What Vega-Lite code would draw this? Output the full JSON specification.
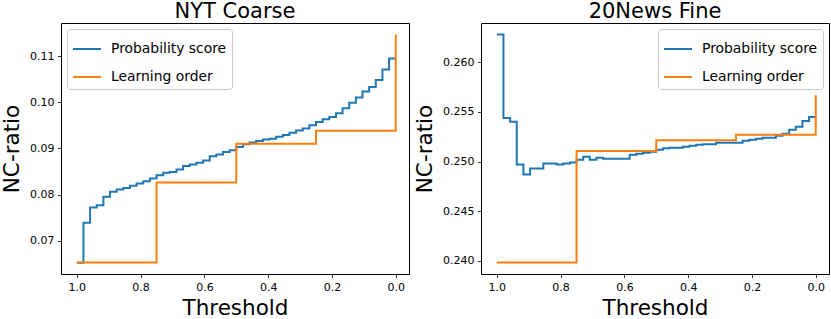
{
  "$schema": "https://vega.github.io/schema/vega-lite/v6.json",
  "background": "white",
  "padding": {"left": 1, "top": 0, "right": 3, "bottom": 0},
  "spacing": 4,
  "config": {
    "font": "DejaVu Sans",
    "view": {"stroke": "#000", "strokeWidth": 1},
    "axis": {"grid": false, "domain": false, "tickColor": "#000", "tickSize": 3.5, "tickWidth": 0.8, "labelFont": "DejaVu Sans", "labelFontSize": 11, "labelColor": "#000", "labelPadding": 3.5, "titleFont": "DejaVu Sans", "titleFontSize": 21.5, "titleFontWeight": "normal", "titleColor": "#000", "titlePadding": 6},
    "axisX": {"titlePadding": 5},
    "title": {"font": "DejaVu Sans", "fontSize": 21, "fontWeight": "normal", "color": "#000", "offset": 1},
    "legend": {"labelFont": "DejaVu Sans", "labelFontSize": 13.9, "labelColor": "#000", "symbolType": "stroke", "symbolSize": 784, "symbolStrokeWidth": 2, "fillColor": "rgba(255,255,255,0.8)", "strokeColor": "#cccccc", "cornerRadius": 3, "padding": 5, "rowPadding": 6, "labelOffset": 9, "offset": 6}
  },
  "datasets": {
    "nyt": [
      {"series": "Probability score", "t": 1, "v": 0.0652},
      {"series": "Probability score", "t": 0.97917, "v": 0.0739},
      {"series": "Probability score", "t": 0.95833, "v": 0.0772},
      {"series": "Probability score", "t": 0.9375, "v": 0.0777},
      {"series": "Probability score", "t": 0.91667, "v": 0.0795},
      {"series": "Probability score", "t": 0.89583, "v": 0.0806},
      {"series": "Probability score", "t": 0.875, "v": 0.0811},
      {"series": "Probability score", "t": 0.85417, "v": 0.0814},
      {"series": "Probability score", "t": 0.83333, "v": 0.0819},
      {"series": "Probability score", "t": 0.8125, "v": 0.0824},
      {"series": "Probability score", "t": 0.79167, "v": 0.0829},
      {"series": "Probability score", "t": 0.77083, "v": 0.0835},
      {"series": "Probability score", "t": 0.75, "v": 0.0842},
      {"series": "Probability score", "t": 0.72917, "v": 0.0847},
      {"series": "Probability score", "t": 0.70833, "v": 0.0849},
      {"series": "Probability score", "t": 0.6875, "v": 0.0854},
      {"series": "Probability score", "t": 0.66667, "v": 0.0862},
      {"series": "Probability score", "t": 0.64583, "v": 0.0865},
      {"series": "Probability score", "t": 0.625, "v": 0.0869},
      {"series": "Probability score", "t": 0.60417, "v": 0.0874},
      {"series": "Probability score", "t": 0.58333, "v": 0.0883},
      {"series": "Probability score", "t": 0.5625, "v": 0.0887},
      {"series": "Probability score", "t": 0.54167, "v": 0.0892},
      {"series": "Probability score", "t": 0.52083, "v": 0.0896},
      {"series": "Probability score", "t": 0.5, "v": 0.0903},
      {"series": "Probability score", "t": 0.47917, "v": 0.0909},
      {"series": "Probability score", "t": 0.45833, "v": 0.0913},
      {"series": "Probability score", "t": 0.4375, "v": 0.0916},
      {"series": "Probability score", "t": 0.41667, "v": 0.0919},
      {"series": "Probability score", "t": 0.39583, "v": 0.0921},
      {"series": "Probability score", "t": 0.375, "v": 0.0925},
      {"series": "Probability score", "t": 0.35417, "v": 0.0929},
      {"series": "Probability score", "t": 0.33333, "v": 0.0934},
      {"series": "Probability score", "t": 0.3125, "v": 0.0939},
      {"series": "Probability score", "t": 0.29167, "v": 0.0943},
      {"series": "Probability score", "t": 0.27083, "v": 0.095},
      {"series": "Probability score", "t": 0.25, "v": 0.0957},
      {"series": "Probability score", "t": 0.22917, "v": 0.0963},
      {"series": "Probability score", "t": 0.20833, "v": 0.0968},
      {"series": "Probability score", "t": 0.1875, "v": 0.0976},
      {"series": "Probability score", "t": 0.16667, "v": 0.0987},
      {"series": "Probability score", "t": 0.14583, "v": 0.0999},
      {"series": "Probability score", "t": 0.125, "v": 0.101},
      {"series": "Probability score", "t": 0.10417, "v": 0.1023},
      {"series": "Probability score", "t": 0.08333, "v": 0.1033},
      {"series": "Probability score", "t": 0.0625, "v": 0.1048},
      {"series": "Probability score", "t": 0.04167, "v": 0.1071},
      {"series": "Probability score", "t": 0.02083, "v": 0.1095},
      {"series": "Probability score", "t": 0, "v": 0.1095},
      {"series": "Learning order", "t": 1, "v": 0.06525},
      {"series": "Learning order", "t": 0.75, "v": 0.0826},
      {"series": "Learning order", "t": 0.5, "v": 0.091},
      {"series": "Learning order", "t": 0.25, "v": 0.0938},
      {"series": "Learning order", "t": 0, "v": 0.1147}
    ],
    "news": [
      {"series": "Probability score", "t": 1, "v": 0.2628},
      {"series": "Probability score", "t": 0.97917, "v": 0.2544},
      {"series": "Probability score", "t": 0.95833, "v": 0.254},
      {"series": "Probability score", "t": 0.9375, "v": 0.2497},
      {"series": "Probability score", "t": 0.91667, "v": 0.2487},
      {"series": "Probability score", "t": 0.89583, "v": 0.2493},
      {"series": "Probability score", "t": 0.875, "v": 0.2493},
      {"series": "Probability score", "t": 0.85417, "v": 0.2498},
      {"series": "Probability score", "t": 0.83333, "v": 0.2498},
      {"series": "Probability score", "t": 0.8125, "v": 0.2497},
      {"series": "Probability score", "t": 0.79167, "v": 0.2498},
      {"series": "Probability score", "t": 0.77083, "v": 0.2499},
      {"series": "Probability score", "t": 0.75, "v": 0.2502},
      {"series": "Probability score", "t": 0.72917, "v": 0.2505},
      {"series": "Probability score", "t": 0.70833, "v": 0.2502},
      {"series": "Probability score", "t": 0.6875, "v": 0.2504},
      {"series": "Probability score", "t": 0.66667, "v": 0.2503},
      {"series": "Probability score", "t": 0.64583, "v": 0.2503},
      {"series": "Probability score", "t": 0.625, "v": 0.2503},
      {"series": "Probability score", "t": 0.60417, "v": 0.2503},
      {"series": "Probability score", "t": 0.58333, "v": 0.2507},
      {"series": "Probability score", "t": 0.5625, "v": 0.2508},
      {"series": "Probability score", "t": 0.54167, "v": 0.2509},
      {"series": "Probability score", "t": 0.52083, "v": 0.251},
      {"series": "Probability score", "t": 0.5, "v": 0.2512},
      {"series": "Probability score", "t": 0.47917, "v": 0.25135},
      {"series": "Probability score", "t": 0.45833, "v": 0.2514},
      {"series": "Probability score", "t": 0.4375, "v": 0.2514},
      {"series": "Probability score", "t": 0.41667, "v": 0.2515},
      {"series": "Probability score", "t": 0.39583, "v": 0.2516},
      {"series": "Probability score", "t": 0.375, "v": 0.2517},
      {"series": "Probability score", "t": 0.35417, "v": 0.25175},
      {"series": "Probability score", "t": 0.33333, "v": 0.25175},
      {"series": "Probability score", "t": 0.3125, "v": 0.2519},
      {"series": "Probability score", "t": 0.29167, "v": 0.2519},
      {"series": "Probability score", "t": 0.27083, "v": 0.2519},
      {"series": "Probability score", "t": 0.25, "v": 0.2519},
      {"series": "Probability score", "t": 0.22917, "v": 0.2521},
      {"series": "Probability score", "t": 0.20833, "v": 0.2522},
      {"series": "Probability score", "t": 0.1875, "v": 0.2523},
      {"series": "Probability score", "t": 0.16667, "v": 0.2524},
      {"series": "Probability score", "t": 0.14583, "v": 0.2524},
      {"series": "Probability score", "t": 0.125, "v": 0.2526},
      {"series": "Probability score", "t": 0.10417, "v": 0.2528},
      {"series": "Probability score", "t": 0.08333, "v": 0.2532},
      {"series": "Probability score", "t": 0.0625, "v": 0.2535},
      {"series": "Probability score", "t": 0.04167, "v": 0.2541},
      {"series": "Probability score", "t": 0.02083, "v": 0.2545},
      {"series": "Probability score", "t": 0, "v": 0.2545},
      {"series": "Learning order", "t": 1, "v": 0.23984},
      {"series": "Learning order", "t": 0.75, "v": 0.25108},
      {"series": "Learning order", "t": 0.5, "v": 0.25216},
      {"series": "Learning order", "t": 0.25, "v": 0.2527},
      {"series": "Learning order", "t": 0, "v": 0.25667}
    ]
  },
  "hconcat": [
    {
      "title": "NYT Coarse",
      "width": 348,
      "height": 251,
      "data": {"name": "nyt"},
      "mark": {"type": "line", "interpolate": "step-after", "strokeWidth": 2, "clip": true},
      "encoding": {
        "x": {"field": "t", "type": "quantitative", "scale": {"domain": [-0.0416, 1.0496], "reverse": true, "nice": false, "zero": false}, "axis": {"values": [0, 0.2, 0.4, 0.6, 0.8, 1], "format": ".1f", "title": "Threshold"}},
        "y": {"field": "v", "type": "quantitative", "scale": {"domain": [0.06278, 0.11717], "nice": false, "zero": false}, "axis": {"values": [0.07, 0.08, 0.09, 0.1, 0.11], "format": ".2f", "title": "NC-ratio"}},
        "color": {"field": "series", "type": "nominal", "scale": {"domain": ["Probability score", "Learning order"], "range": ["#1f77b4", "#ff7f0e"]}, "legend": {"title": null, "orient": "top-left"}},
        "order": {"field": "t", "sort": "descending"}
      }
    },
    {
      "title": "20News Fine",
      "width": 348,
      "height": 251,
      "data": {"name": "news"},
      "mark": {"type": "line", "interpolate": "step-after", "strokeWidth": 2, "clip": true},
      "encoding": {
        "x": {"field": "t", "type": "quantitative", "scale": {"domain": [-0.0416, 1.0496], "reverse": true, "nice": false, "zero": false}, "axis": {"values": [0, 0.2, 0.4, 0.6, 0.8, 1], "format": ".1f", "title": "Threshold"}},
        "y": {"field": "v", "type": "quantitative", "scale": {"domain": [0.23869, 0.26395], "nice": false, "zero": false}, "axis": {"values": [0.24, 0.245, 0.25, 0.255, 0.26], "format": ".3f", "title": "NC-ratio"}},
        "color": {"field": "series", "type": "nominal", "scale": {"domain": ["Probability score", "Learning order"], "range": ["#1f77b4", "#ff7f0e"]}, "legend": {"title": null, "orient": "top-right"}},
        "order": {"field": "t", "sort": "descending"}
      }
    }
  ],
  "resolve": {"legend": {"color": "independent"}}
}
